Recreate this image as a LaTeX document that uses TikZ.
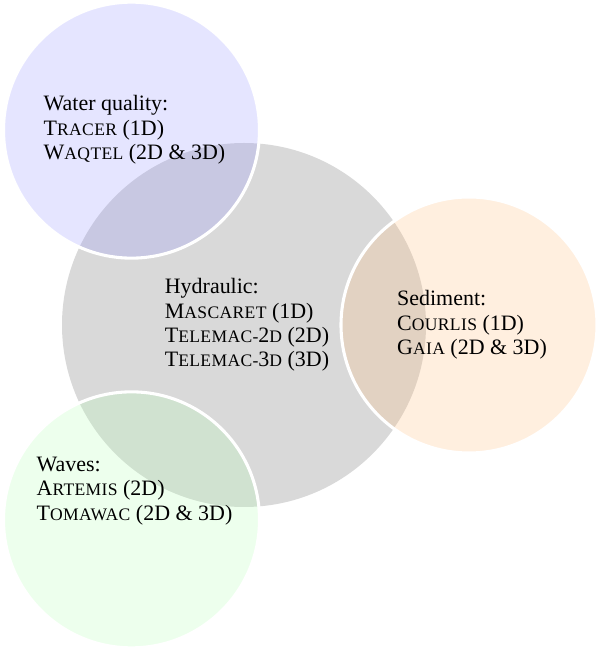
\documentclass[tikz,border=0pt]{standalone}
\usepackage{fontspec}
\setmainfont{Liberation Serif}
\usepackage{xcolor}
\usepackage{tikz}
\usetikzlibrary{calc}

\newcommand{\smcap}[1]{{\fontsize{10pt}{11pt}\selectfont\addfontfeature{LetterSpace=2}\MakeUppercase{#1}}}
\newcommand{\prog}[2]{#1\smcap{#2}}

\begin{document}
\begin{tikzpicture}[venntext/.style={align=left, xshift=0.06cm,
                    font=\fontsize{12.5pt}{13.9pt}\selectfont},
                    bubble/.style={fill opacity=0.25, draw=white,
                    draw opacity=1, line width=1.75pt}]
                    \useasboundingbox (0,0) rectangle (12,13.02);
                    \coordinate (hyd) at (4.88,6.52);
                    \coordinate (wq) at ($(hyd)+(120:4.5)$);
                    \coordinate (sed) at ($(hyd)+(0:4.5)$);
                    \coordinate (wav) at ($(hyd)+(240:4.5)$);
                    \fill[gray!30] (hyd) circle (3.64);
                    \foreach \c/\col in {wq/blue!40, sed/orange!50, wav/green!28}
                    \filldraw[bubble, fill=\col] (\c) circle (2.56);
                    \node[venntext] (hydtext) at (hyd) {Hydraulic:\\
                      \prog{M}{ascaret} (1D)\\
                      \prog{T}{elemac-}2\smcap{d} (2D)\\
                      \prog{T}{elemac-}3\smcap{d} (3D)};
                    \node[venntext] (wqtext) at (wq) {Water quality:\\
                      \prog{T}{racer} (1D)\\
                      \prog{W}{aqtel} (2D \& 3D)};
                    \node[venntext] (sedtext) at (sed) {Sediment:\\
                      \prog{C}{ourlis} (1D)\\
                      \prog{G}{aia} (2D \& 3D)};
                    \node[venntext] (wavtext) at ($(wav)+(0,0.58)$) {Waves:\\
                      \prog{A}{rtemis} (2D)\\
                      \prog{T}{omawac} (2D \& 3D)};
                      \end{tikzpicture}
\end{document}
